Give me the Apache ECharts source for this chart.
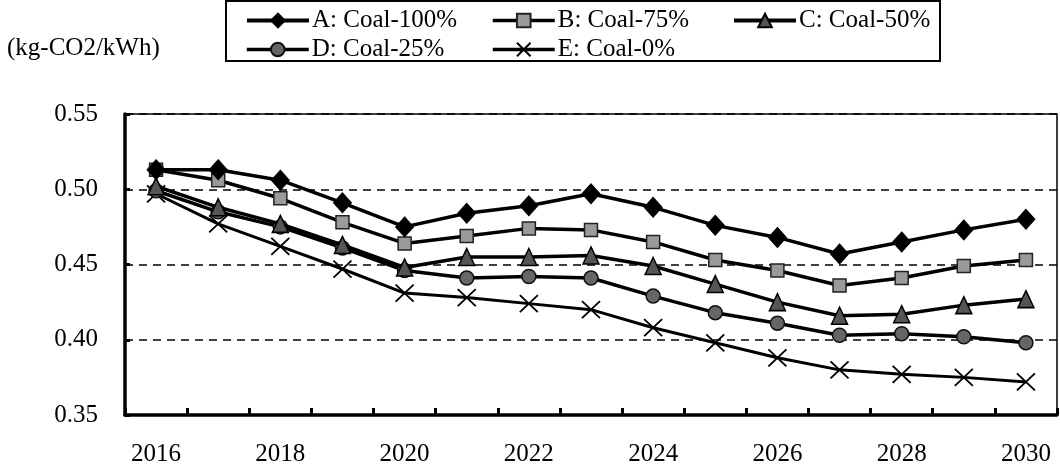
<!DOCTYPE html>
<html>
<head>
<meta charset="utf-8">
<script src="https://cdn.jsdelivr.net/npm/echarts@6/dist/echarts.min.js"></script>
<style>
html,body{margin:0;padding:0;background:#fff;}
#c{width:1060px;height:472px;}
</style>
</head>
<body>
<div id="c"></div>
<script>
var years = ['2016','2017','2018','2019','2020','2021','2022','2023','2024','2025','2026','2027','2028','2029','2030'];
var seriesNames = ['A: Coal-100%','B: Coal-75%','C: Coal-50%','D: Coal-25%','E: Coal-0%'];
var coal100 = [0.513,0.513,0.506,0.491,0.475,0.484,0.489,0.497,0.488,0.476,0.468,0.457,0.465,0.473,0.480];
var coal75  = [0.513,0.506,0.494,0.478,0.464,0.469,0.474,0.473,0.465,0.453,0.446,0.436,0.441,0.449,0.453];
var coal50  = [0.502,0.488,0.477,0.463,0.448,0.455,0.455,0.456,0.449,0.437,0.425,0.416,0.417,0.423,0.427];
var coal25  = [0.499,0.485,0.475,0.461,0.446,0.441,0.442,0.441,0.429,0.418,0.411,0.403,0.404,0.402,0.398];
var coal0   = [0.497,0.477,0.462,0.447,0.431,0.428,0.424,0.420,0.408,0.398,0.388,0.380,0.377,0.375,0.372];
var yTicks = {min:0.35, max:0.55, step:0.05};
var unitLabel = '(kg-CO2/kWh)';

var FONT = '"Liberation Serif","Times New Roman",serif';
var chart = echarts.init(document.getElementById('c'), null, {renderer:'canvas'});

var styles = [
  {symbol:'diamond', size:[18,20], fill:'#000', border:'#000', bw:1},
  {symbol:'rect', size:13, fill:'#9a9a9a', border:'#222', bw:1.5},
  {symbol:'triangle', size:[16,17], fill:'#555', border:'#000', bw:1.5},
  {symbol:'circle', size:14, fill:'#666', border:'#111', bw:1.5},
  {symbol:'path://M0,0L10,10M10,0L0,10', size:[18,17], fill:'none', border:'#000', bw:1.8}
];
var data = [coal100, coal75, coal50, coal25, coal0];

var series = data.map(function(d,i){
  var s = styles[i];
  return {
    name: seriesNames[i], type:'line', data:d,
    symbol: s.symbol, symbolSize: s.size, showAllSymbol:true,
    lineStyle:{color:'#000', width: i===4 ? 3 : 3.5},
    itemStyle:{color:s.fill, borderColor:s.border, borderWidth:s.bw},
    z: 10 - i, animation:false
  };
});

var legendPos = [
  {left:245, top:8}, {left:491, top:8}, {left:732, top:8},
  {left:245, top:37}, {left:491, top:37}
];
var legends = seriesNames.map(function(n,i){
  return {
    data:[n], left:legendPos[i].left, top:legendPos[i].top,
    itemWidth:62, itemHeight:17, itemGap:0, padding:0,
    lineStyle:{width:i===0||i===2 ? 4 : 3.5, color:'#000'},
    textStyle:{fontFamily:FONT, fontSize:25, color:'#000', padding:[0,0,0,-2]},
    selectedMode:false
  };
});

chart.setOption({
  animation:false,
  backgroundColor:'#fff',
  legend: legends,
  graphic:[
    {type:'rect', shape:{x:226, y:1, width:714, height:60}, style:{fill:'none', stroke:'#000', lineWidth:2}, z:0},
    {type:'text', left:7, top:36, style:{text:unitLabel, font:'25px ' + FONT, fill:'#000'}}
  ],
  grid:{left:125, right:3, top:114, bottom:57, show:true, borderColor:'#000', borderWidth:1.5, containLabel:false},
  xAxis:{
    type:'category', data:years, boundaryGap:true,
    axisLine:{lineStyle:{color:'#000', width:3.5}},
    axisTick:{show:true, inside:true, interval:0, length:7, lineStyle:{color:'#000', width:3}},
    axisLabel:{interval:1, margin:27, fontFamily:FONT, fontSize:25, color:'#000'},
    splitLine:{show:false}
  },
  yAxis:{
    type:'value', min:yTicks.min, max:yTicks.max, interval:yTicks.step,
    axisLine:{show:true, lineStyle:{color:'#000', width:3.5}},
    axisTick:{show:true, inside:true, length:5, lineStyle:{color:'#000', width:3}},
    axisLabel:{margin:27, fontFamily:FONT, fontSize:25, color:'#000', formatter:function(v){return v.toFixed(2);}},
    splitLine:{show:true, lineStyle:{color:'#000', width:1.5, type:[8,6]}}
  },
  series: series
});
</script>
</body>
</html>
